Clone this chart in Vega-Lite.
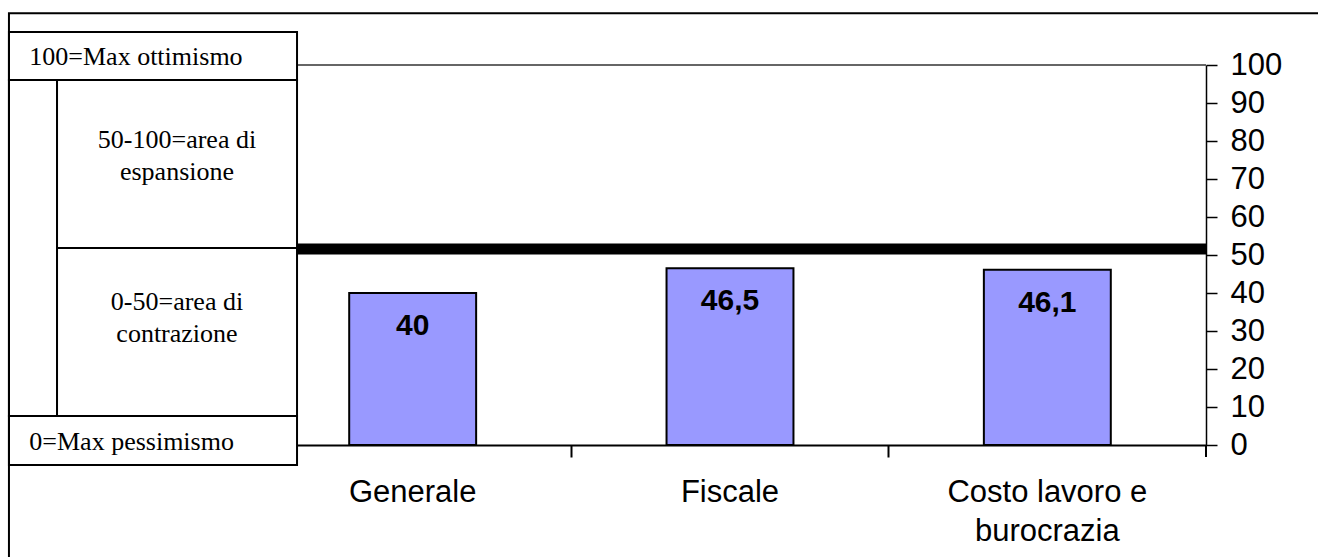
{
  "$schema": "https://vega.github.io/schema/vega-lite/v6.json",
  "width": 952,
  "height": 380,
  "autosize": {"type": "none"},
  "padding": {"left": 254, "top": 65, "right": 112, "bottom": 112},
  "background": "white",
  "config": {"view": {"stroke": null}},
  "datasets": {
    "bars": [
      {"categoria": "Generale", "valore": 40, "etichetta": "40"},
      {"categoria": "Fiscale", "valore": 46.5, "etichetta": "46,5"},
      {"categoria": "Costo lavoro e burocrazia", "valore": 46.1, "etichetta": "46,1"}
    ],
    "soglia": [{"x0": 0, "x1": 100, "y": 51.6}],
    "griglia": [{"x0": 0, "x1": 100, "y": 100}],
    "tick": [{"x": 100, "y0": 0, "y1": -3.16}],
    "box": [
      {"x0": -25.74, "x1": 4.52, "y0": 108.7, "y1": 96.05},
      {"x0": -25.74, "x1": -20.69, "y0": 96.05, "y1": 7.63},
      {"x0": -20.69, "x1": 4.52, "y0": 96.05, "y1": 51.84},
      {"x0": -20.69, "x1": 4.52, "y0": 51.84, "y1": 7.63},
      {"x0": -25.74, "x1": 4.52, "y0": 7.63, "y1": -5.26}
    ],
    "testiSx": [
      {"x": -23.6, "y": 102.1, "testo": "100=Max ottimismo"},
      {"x": -23.6, "y": 0.8, "testo": "0=Max pessimismo"}
    ],
    "testiCentro": [
      {"x": -8.09, "y": 80.3, "testo": "50-100=area di|espansione"},
      {"x": -8.09, "y": 37.6, "testo": "0-50=area di|contrazione"}
    ],
    "cornice": [{"x0": -25.74, "x1": 125, "y0": 113.6, "y1": -40}]
  },
  "layer": [
    {
      "data": {"name": "griglia"},
      "mark": {"type": "rule", "color": "#333333", "strokeWidth": 1.5},
      "encoding": {
        "x": {"field": "x0", "type": "quantitative", "scale": {"domain": [0, 100], "nice": false, "zero": false}, "axis": null},
        "x2": {"field": "x1"},
        "y": {"field": "y", "type": "quantitative", "scale": {"domain": [0, 100], "nice": false}, "axis": null}
      }
    },
    {
      "data": {"name": "bars"},
      "mark": {"type": "bar", "color": "#9999FF", "stroke": "black", "strokeWidth": 2, "width": {"band": 0.4}},
      "encoding": {
        "x": {
          "field": "categoria", "type": "nominal", "sort": null,
          "scale": {"paddingInner": 0, "paddingOuter": 0},
          "axis": {
            "orient": "bottom", "title": null, "labelAngle": 0, "bandPosition": 0,
            "tickSize": 12, "tickColor": "black", "tickWidth": 2,
            "domainColor": "black", "domainWidth": 2,
            "labelFont": "Liberation Sans", "labelFontSize": 31, "labelColor": "black",
            "labelPadding": 20, "labelLineHeight": 39, "labelBaseline": "top", "labelLimit": 500,
            "labelExpr": "datum.value == 'Costo lavoro e burocrazia' ? ['Costo lavoro e', 'burocrazia'] : datum.value"
          }
        },
        "y": {
          "field": "valore", "type": "quantitative",
          "scale": {"domain": [0, 100], "nice": false},
          "axis": {
            "orient": "right", "title": null, "values": [0, 10, 20, 30, 40, 50, 60, 70, 80, 90, 100],
            "grid": false, "tickSize": 11, "tickColor": "black", "tickWidth": 1.5,
            "domainColor": "black", "domainWidth": 1.5,
            "labelFont": "Liberation Sans", "labelFontSize": 31, "labelColor": "black",
            "labelPadding": 13, "labelAlign": "left", "labelBaseline": "middle"
          }
        }
      }
    },
    {
      "data": {"name": "bars"},
      "mark": {"type": "text", "font": "Liberation Sans", "fontSize": 30, "fontWeight": "bold", "color": "black", "baseline": "alphabetic", "dy": 42},
      "encoding": {
        "x": {"field": "categoria", "type": "nominal", "sort": null, "scale": {"paddingInner": 0, "paddingOuter": 0}, "axis": null},
        "y": {"field": "valore", "type": "quantitative", "scale": {"domain": [0, 100], "nice": false}, "axis": null},
        "text": {"field": "etichetta"}
      }
    },
    {
      "data": {"name": "soglia"},
      "mark": {"type": "rule", "color": "black", "strokeWidth": 11},
      "encoding": {
        "x": {"field": "x0", "type": "quantitative", "scale": {"domain": [0, 100], "nice": false, "zero": false}, "axis": null},
        "x2": {"field": "x1"},
        "y": {"field": "y", "type": "quantitative", "scale": {"domain": [0, 100], "nice": false}, "axis": null}
      }
    },
    {
      "data": {"name": "tick"},
      "mark": {"type": "rule", "color": "black", "strokeWidth": 2},
      "encoding": {
        "x": {"field": "x", "type": "quantitative", "scale": {"domain": [0, 100], "nice": false, "zero": false}, "axis": null},
        "y": {"field": "y0", "type": "quantitative", "scale": {"domain": [0, 100], "nice": false}, "axis": null},
        "y2": {"field": "y1"}
      }
    },
    {
      "data": {"name": "box"},
      "mark": {"type": "rect", "fill": "white", "stroke": "black", "strokeWidth": 2},
      "encoding": {
        "x": {"field": "x0", "type": "quantitative", "scale": {"domain": [0, 100], "nice": false, "zero": false}, "axis": null},
        "x2": {"field": "x1"},
        "y": {"field": "y0", "type": "quantitative", "scale": {"domain": [0, 100], "nice": false}, "axis": null},
        "y2": {"field": "y1"}
      }
    },
    {
      "data": {"name": "testiSx"},
      "mark": {"type": "text", "font": "Liberation Serif", "fontSize": 26, "color": "black", "align": "left", "baseline": "middle"},
      "encoding": {
        "x": {"field": "x", "type": "quantitative", "scale": {"domain": [0, 100], "nice": false, "zero": false}, "axis": null},
        "y": {"field": "y", "type": "quantitative", "scale": {"domain": [0, 100], "nice": false}, "axis": null},
        "text": {"field": "testo"}
      }
    },
    {
      "data": {"name": "testiCentro"},
      "mark": {"type": "text", "font": "Liberation Serif", "fontSize": 26, "color": "black", "align": "center", "baseline": "middle", "lineBreak": "|", "lineHeight": 32},
      "encoding": {
        "x": {"field": "x", "type": "quantitative", "scale": {"domain": [0, 100], "nice": false, "zero": false}, "axis": null},
        "y": {"field": "y", "type": "quantitative", "scale": {"domain": [0, 100], "nice": false}, "axis": null},
        "text": {"field": "testo"}
      }
    },
    {
      "data": {"name": "cornice"},
      "mark": {"type": "rect", "filled": false, "stroke": "black", "strokeWidth": 2},
      "encoding": {
        "x": {"field": "x0", "type": "quantitative", "scale": {"domain": [0, 100], "nice": false, "zero": false}, "axis": null},
        "x2": {"field": "x1"},
        "y": {"field": "y0", "type": "quantitative", "scale": {"domain": [0, 100], "nice": false}, "axis": null},
        "y2": {"field": "y1"}
      }
    }
  ],
  "resolve": {"scale": {"x": "independent", "y": "independent"}, "axis": {"x": "independent", "y": "independent"}}
}
